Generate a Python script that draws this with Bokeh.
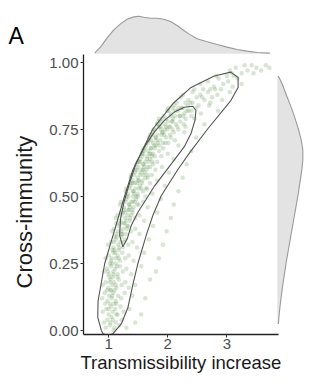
from bokeh.plotting import figure
from bokeh.models import Range1d, FixedTicker, NumeralTickFormatter, Label, Title
from bokeh.layouts import column, row
from bokeh.embed import file_html
from bokeh.resources import INLINE

# ---------------- data ----------------
posterior_samples = [
    (0.95,0.01),(1.02,0.02),(1.08,0.00),(1.12,0.03),(0.98,0.04),(1.05,0.05),(1.18,0.02),(1.22,0.04),(0.92,0.03),(1.30,0.01),(1.45,0.03),(1.10,0.01),
    (0.90,0.07),(0.96,0.08),(1.00,0.06),(1.04,0.09),(1.07,0.07),(1.11,0.08),(1.15,0.06),(1.20,0.09),(1.25,0.07),(0.94,0.10),(1.02,0.10),(1.35,0.08),(1.55,0.06),(1.13,0.10),
    (0.89,0.12),(0.93,0.14),(0.98,0.11),(1.01,0.13),(1.05,0.12),(1.08,0.14),(1.12,0.11),(1.16,0.13),(1.21,0.12),(1.27,0.14),(1.03,0.15),(0.97,0.15),(1.40,0.13),(1.62,0.12),(1.10,0.15),
    (0.90,0.17),(0.95,0.18),(0.99,0.16),(1.03,0.19),(1.06,0.17),(1.09,0.18),(1.13,0.16),(1.17,0.19),(1.22,0.17),(1.28,0.18),(1.01,0.20),(1.07,0.20),(1.45,0.17),(1.70,0.19),(1.34,0.16),(1.15,0.20),
    (0.92,0.22),(0.97,0.23),(1.00,0.21),(1.04,0.24),(1.08,0.22),(1.11,0.23),(1.15,0.21),(1.19,0.24),(1.24,0.22),(1.30,0.23),(1.06,0.25),(1.12,0.25),(1.38,0.21),(1.55,0.24),(1.80,0.22),(1.02,0.25),
    (0.95,0.27),(1.00,0.28),(1.04,0.26),(1.08,0.29),(1.12,0.27),(1.15,0.28),(1.19,0.26),(1.23,0.29),(1.28,0.27),(1.34,0.28),(1.10,0.30),(1.17,0.30),(1.42,0.26),(1.60,0.29),(1.85,0.27),(1.06,0.30),
    (0.99,0.32),(1.04,0.33),(1.08,0.31),(1.12,0.34),(1.16,0.32),(1.20,0.33),(1.24,0.31),(1.28,0.34),(1.33,0.32),(1.40,0.33),(1.14,0.35),(1.22,0.35),(1.48,0.31),(1.68,0.34),(1.92,0.32),(1.10,0.35),(1.26,0.33),
    (1.06,0.37),(1.09,0.38),(1.13,0.36),(1.17,0.39),(1.21,0.37),(1.25,0.38),(1.29,0.36),(1.33,0.39),(1.38,0.37),(1.45,0.38),(1.19,0.40),(1.27,0.40),(1.52,0.36),(1.75,0.39),(1.98,0.37),(1.23,0.36),(1.31,0.38),
    (1.12,0.42),(1.15,0.43),(1.20,0.41),(1.24,0.44),(1.28,0.42),(1.32,0.43),(1.36,0.41),(1.40,0.44),(1.45,0.42),(1.52,0.43),(1.26,0.45),(1.34,0.45),(1.60,0.41),(1.82,0.44),(2.05,0.42),(1.30,0.41),(1.38,0.43),(1.22,0.43),
    (1.19,0.47),(1.21,0.48),(1.26,0.46),(1.30,0.49),(1.34,0.47),(1.38,0.48),(1.42,0.46),(1.46,0.49),(1.51,0.47),(1.58,0.48),(1.33,0.50),(1.41,0.50),(1.66,0.46),(1.88,0.49),(2.10,0.47),(1.36,0.46),(1.44,0.48),(1.28,0.48),(1.49,0.50),
    (1.29,0.52),(1.30,0.53),(1.33,0.51),(1.37,0.54),(1.41,0.52),(1.45,0.53),(1.49,0.51),(1.53,0.54),(1.58,0.52),(1.65,0.53),(1.40,0.55),(1.48,0.55),(1.74,0.51),(1.95,0.54),(2.18,0.52),(1.43,0.51),(1.51,0.53),(1.35,0.53),(1.56,0.55),(1.62,0.50),
    (1.37,0.57),(1.38,0.58),(1.41,0.56),(1.45,0.59),(1.49,0.57),(1.53,0.58),(1.57,0.56),(1.61,0.59),(1.66,0.57),(1.73,0.58),(1.48,0.60),(1.56,0.60),(1.82,0.56),(2.02,0.59),(2.25,0.57),(1.51,0.56),(1.59,0.58),(1.43,0.58),(1.64,0.60),(1.70,0.55),
    (1.47,0.62),(1.49,0.63),(1.50,0.61),(1.54,0.64),(1.58,0.62),(1.62,0.63),(1.66,0.61),(1.70,0.64),(1.75,0.62),(1.82,0.63),(1.57,0.65),(1.65,0.65),(1.90,0.61),(2.10,0.64),(2.32,0.62),(1.60,0.61),(1.68,0.63),(1.52,0.63),(1.73,0.65),(1.79,0.60),
    (1.57,0.67),(1.59,0.68),(1.58,0.66),(1.63,0.69),(1.67,0.67),(1.71,0.68),(1.75,0.66),(1.80,0.69),(1.85,0.67),(1.92,0.68),(1.66,0.70),(1.75,0.70),(2.00,0.66),(2.18,0.69),(2.40,0.67),(1.69,0.66),(1.78,0.68),(1.61,0.68),(1.83,0.70),(1.89,0.65),(1.96,0.70),
    (1.68,0.72),(1.70,0.73),(1.72,0.71),(1.75,0.74),(1.79,0.72),(1.83,0.73),(1.87,0.71),(1.92,0.74),(1.97,0.72),(2.04,0.73),(1.78,0.75),(1.88,0.75),(2.12,0.71),(2.28,0.74),(2.48,0.72),(1.81,0.71),(1.90,0.73),(1.74,0.73),(1.95,0.75),(2.01,0.70),(2.08,0.75),
    (1.82,0.77),(1.84,0.78),(1.85,0.76),(1.90,0.79),(1.95,0.77),(2.00,0.78),(2.04,0.76),(2.09,0.79),(2.14,0.77),(2.21,0.78),(1.93,0.80),(2.05,0.80),(2.30,0.76),(2.45,0.79),(2.62,0.77),(1.97,0.76),(2.07,0.78),(1.88,0.78),(2.12,0.80),(2.18,0.75),(2.26,0.80),
    (1.99,0.82),(2.01,0.83),(2.05,0.81),(2.11,0.84),(2.17,0.82),(2.23,0.83),(2.28,0.81),(2.34,0.84),(2.40,0.82),(2.48,0.83),(2.15,0.85),(2.30,0.85),(2.56,0.81),(2.70,0.84),(2.85,0.82),(2.20,0.80),(2.32,0.82),(2.08,0.83),(2.42,0.85),(2.52,0.84),
    (2.22,0.87),(2.26,0.88),(2.35,0.86),(2.42,0.89),(2.49,0.87),(2.55,0.88),(2.62,0.86),(2.68,0.89),(2.75,0.87),(2.84,0.88),(2.45,0.90),(2.60,0.90),(2.92,0.86),(3.05,0.89),(2.38,0.85),(2.58,0.87),(2.72,0.85),(2.80,0.90),
    (2.55,0.92),(2.68,0.93),(2.78,0.91),(2.86,0.94),(2.94,0.92),(3.02,0.93),(3.10,0.91),(3.18,0.94),(2.82,0.95),(3.00,0.95),(3.25,0.92),(2.72,0.90),(2.90,0.90),(3.08,0.96),
    (3.05,0.97),(3.15,0.98),(3.25,0.96),(3.35,0.97),(3.42,0.99),(3.50,0.98),(3.58,0.97),(3.66,0.99),(3.72,0.98),(3.30,0.99),(3.12,0.95),(3.45,0.96),
    # dense core (inside the inner contour)
    (1.22,0.36),(1.25,0.40),(1.28,0.44),(1.31,0.39),(1.35,0.47),(1.30,0.50),(1.40,0.45),(1.42,0.52),(1.38,0.55),(1.47,0.50),(1.50,0.56),(1.45,0.60),
    (1.55,0.53),(1.58,0.60),(1.52,0.63),(1.62,0.57),(1.65,0.64),(1.60,0.67),(1.70,0.61),(1.72,0.68),(1.68,0.71),(1.78,0.65),(1.80,0.72),(1.76,0.75),
    (1.86,0.69),(1.88,0.76),(1.85,0.79),(1.94,0.73),(1.97,0.79),(2.02,0.76),(2.00,0.82),(2.08,0.78),(2.12,0.82),(2.16,0.76),(2.20,0.80),(2.25,0.83),
    (2.30,0.79),(2.35,0.82),(2.40,0.80),(1.92,0.70),(2.05,0.72),(1.74,0.63),(1.63,0.53),(1.48,0.47),(1.36,0.42),(1.56,0.66),(1.82,0.77),(2.10,0.74),
    (2.27,0.77),(1.66,0.58),(1.44,0.55),(1.54,0.59),(1.77,0.69),(1.99,0.75),(2.18,0.83),(1.33,0.45),(1.41,0.48),(1.59,0.62),(1.71,0.66),(1.90,0.74),
    # dense lower band
    (1.03,0.03),(1.07,0.04),(1.00,0.08),(1.09,0.10),(1.06,0.13),(1.12,0.17),(1.02,0.18),(1.08,0.21),(1.14,0.24),(1.05,0.27),
    (1.11,0.29),(1.18,0.31),(1.09,0.33),(1.16,0.37),(1.13,0.40),(1.20,0.44),(1.04,0.15),(0.99,0.22),(1.13,0.06),(1.17,0.27),
]
transmissibility = [s[0] for s in posterior_samples]
cross_immunity = [s[1] for s in posterior_samples]

# outer (95%) contour
outer_x = [0.876, 0.815, 0.82, 0.933, 1.073, 1.27, 1.41, 1.747, 2.084, 2.393, 2.786, 3.067, 3.19, 3.19, 3.067,
           2.674, 2.365, 2.168, 1.887, 1.747, 1.635, 1.494, 1.41, 1.326, 1.213, 1.073, 0.989, 0.904, 0.876]
outer_y = [0.0, 0.049, 0.11, 0.25, 0.355, 0.502, 0.60, 0.752, 0.846, 0.907, 0.95, 0.964, 0.944, 0.907, 0.858,
           0.752, 0.662, 0.60, 0.502, 0.429, 0.355, 0.25, 0.172, 0.086, 0.0245, -0.012, -0.018, -0.012, 0.0]
# inner (50%) contour
inner_x = [1.24, 1.185, 1.2, 1.258, 1.354, 1.466, 1.607, 1.775, 1.944, 2.112, 2.28, 2.42, 2.477, 2.46, 2.393,
           2.28, 2.112, 1.944, 1.775, 1.635, 1.494, 1.382, 1.315, 1.24]
inner_y = [0.3125, 0.355, 0.417, 0.478, 0.551, 0.625, 0.686, 0.741, 0.784, 0.815, 0.833, 0.837, 0.821, 0.784, 0.735,
           0.686, 0.637, 0.588, 0.539, 0.49, 0.441, 0.392, 0.343, 0.3125]

# marginal densities (relative)
top_x = [0.781, 0.876, 0.989, 1.101, 1.213, 1.326, 1.438, 1.522, 1.607, 1.719, 1.831, 1.944, 2.056, 2.168,
         2.281, 2.393, 2.505, 2.674, 2.842, 3.011, 3.179, 3.348, 3.516, 3.73]
top_density = [0.027, 0.177, 0.425, 0.637, 0.796, 0.920, 0.982, 1.0, 0.973, 0.947, 0.947, 0.920, 0.858, 0.752,
               0.619, 0.504, 0.398, 0.319, 0.248, 0.177, 0.115, 0.071, 0.035, 0.018]
right_y = [0.950, 0.919, 0.876, 0.839, 0.797, 0.754, 0.711, 0.674, 0.637, 0.600, 0.551, 0.502, 0.453, 0.404,
           0.355, 0.306, 0.257, 0.208, 0.159, 0.110, 0.067, 0.0245]
right_density = [0.039, 0.195, 0.364, 0.519, 0.675, 0.818, 0.935, 1.0, 1.0, 0.961, 0.883, 0.805, 0.714, 0.623,
                 0.532, 0.442, 0.351, 0.273, 0.195, 0.130, 0.078, 0.039]

x_ticks = [1, 2, 3]
y_ticks = [0.0, 0.25, 0.5, 0.75, 1.0]
panel_letter = "A"
x_title = "Transmissibility increase"
y_title = "Cross-immunity"

FONT = "Liberation Sans"
FILL = "#e3e3e3"
EDGE = "#9a9a9a"


def bare(fig):
    fig.grid.visible = False
    fig.outline_line_color = None
    fig.background_fill_color = "white"
    fig.border_fill_color = "white"


# ---- header strip: panel letter + x marginal density ----
top = figure(width=314, height=54, output_backend="svg", toolbar_location=None,
             x_range=Range1d(-0.8079, 4.4827), y_range=Range1d(-0.0186, 1.4176),
             x_axis_location=None, y_axis_location=None,
             min_border_left=0, min_border_right=0, min_border_top=0, min_border_bottom=0)
bare(top)
top.varea(x=top_x, y1=0, y2=top_density, fill_color=FILL)
top.line(top_x, top_density, line_color=EDGE, line_width=1.1)
top.add_layout(Label(x=8, y=19, x_units="screen", y_units="screen", text=panel_letter,
                     text_font=FONT, text_font_size="23px", text_color="black",
                     text_baseline="middle"))

# ---- main panel (with the y marginal at its right) ----
p = figure(width=314, height=329, output_backend="svg", toolbar_location=None,
           x_range=Range1d(0.5737, 4.4827), y_range=Range1d(-0.0149, 1.0299),
           min_border_left=82, min_border_right=0, min_border_top=0, min_border_bottom=49)
bare(p)
p.extra_x_ranges = {"ydens": Range1d(-7.605, 1.457)}

p.harea(y=right_y, x1=0, x2=right_density, x_range_name="ydens", fill_color=FILL)
p.line(right_density, right_y, x_range_name="ydens", line_color=EDGE, line_width=1.1)

p.scatter(transmissibility, cross_immunity, size=4.5, color="#4f8a3c", alpha=0.22, line_alpha=0)
p.line(outer_x, outer_y, line_color="#555555", line_width=1.1)
p.line(inner_x, inner_y, line_color="#555555", line_width=1.1)

for ax in (p.xaxis, p.yaxis):
    ax.axis_line_color = "#222222"
    ax.axis_line_width = 1.3
    ax.major_tick_line_color = "#333333"
    ax.major_tick_in = 0
    ax.major_tick_out = 3
    ax.minor_tick_line_color = None
    ax.major_label_text_font = FONT
    ax.major_label_text_font_size = "15px"
    ax.major_label_text_color = "#4d4d4d"

p.xaxis.ticker = FixedTicker(ticks=x_ticks)
p.yaxis.ticker = FixedTicker(ticks=y_ticks)
p.yaxis.formatter = NumeralTickFormatter(format="0.00")
p.xaxis.bounds = (0.5737, 3.876)
p.yaxis.bounds = (-0.0149, 1.0299)
p.xaxis.major_label_standoff = 1
p.yaxis.major_label_standoff = 2

p.add_layout(Title(text=x_title, align="left", offset=-3, standoff=-3,
                   text_font=FONT, text_font_size="18.5px", text_font_style="normal",
                   text_color="#1a1a1a"), "below")
p.add_layout(Title(text=y_title, align="left", offset=46, standoff=19,
                   text_font=FONT, text_font_size="22px", text_font_style="normal",
                   text_color="#1a1a1a"), "left")

layout = column(top, row(p, spacing=0), spacing=0)
open("out.html", "w").write(file_html(layout, INLINE))
